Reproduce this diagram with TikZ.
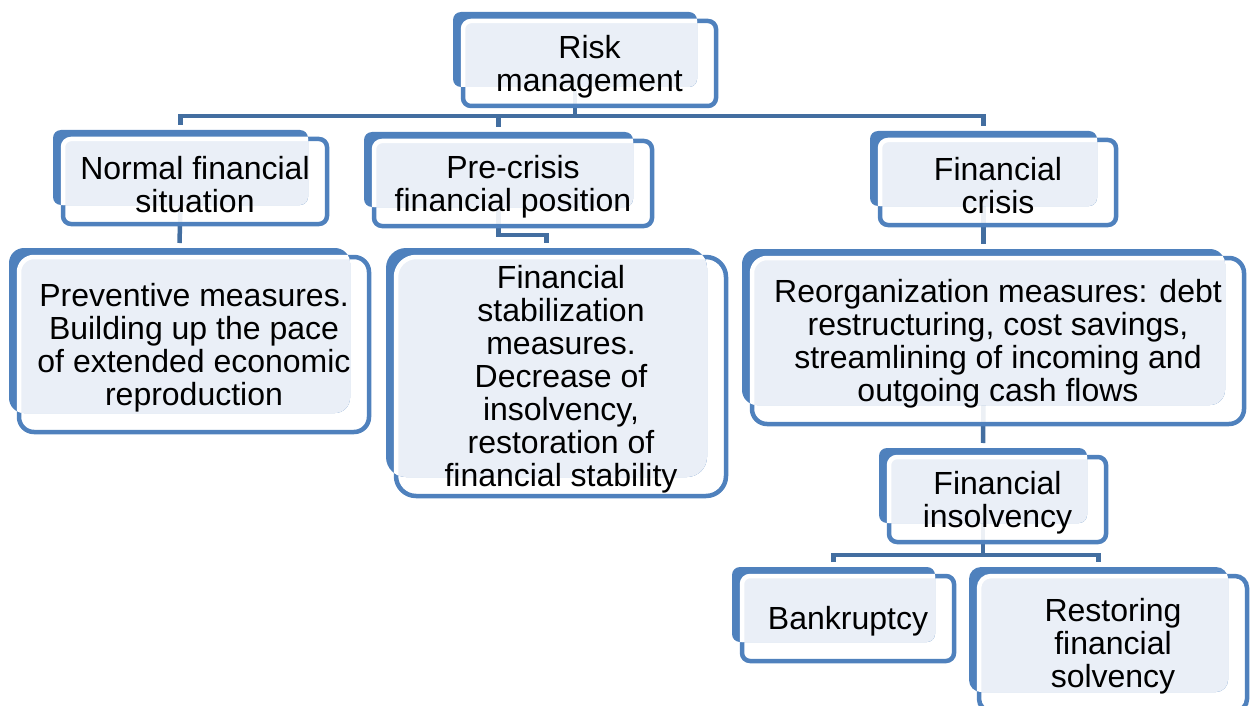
\documentclass[tikz,border=0pt]{standalone}
\usepackage{fontspec}
\setmainfont{Liberation Sans}
\usetikzlibrary{calc}
\pgfdeclarelayer{background}
\pgfsetlayers{background,main}

\definecolor{boxblue}{RGB}{79,129,189}
\definecolor{linkblue}{RGB}{67,110,160}
\definecolor{boxtint}{RGB}{234,239,247}

\tikzset{
  frontframe/.style={draw=boxblue, line width=4.5pt, fill=white, fill opacity=0.9, draw opacity=1},
  tintframe/.style={draw=white, line width=4.5pt, fill=boxtint},
  boxtext/.style={font=\fontsize{32}{33}\selectfont, align=center, inner sep=0pt, text=black},
  link/.style={draw=linkblue, line width=4.5pt},
}

% #1 name, #2 #3 centre of the back tab, #4 #5 its size, #6 corner radius, #7 text
\newcommand\stackbox[7]{%
  \path (#2,#3) node[inner sep=0pt, outer sep=0pt, minimum width=#4pt, minimum height=#5pt] (#1) {};
  \draw[frontframe, rounded corners=#6pt]
    ($(#1.north west)+(10,9)$) rectangle ($(#1.south east)+(19,19)$);
  \fill[boxblue, rounded corners=#6pt] (#1.north west) rectangle (#1.south east);
  \begin{scope}
    \clip[rounded corners=#6pt] (#1.north west) rectangle (#1.south east);
    \draw[tintframe, rounded corners=#6pt]
      ($(#1.north west)+(10,9)$) rectangle ($(#1.south east)+(19,19)$);
  \end{scope}
  \node[boxtext] (#1-text) at ($(#1.center)+(14.5,17)$) {#7};
}

\begin{document}
\begin{tikzpicture}[x=1pt, y=-1pt]
  \useasboundingbox (0,0) rectangle (1250,706);

  \stackbox{rm}{575}{49.5}{244}{75}{8}{Risk\\management}
  \stackbox{nf}{180.5}{167.5}{255}{75}{8}{Normal financial\\situation}
  \stackbox{pm}{179.5}{330.5}{341}{165}{15}{Preventive measures.\\Building up the pace\\of extended economic\\reproduction}
  \stackbox{pc}{498.5}{169.5}{269}{75}{8}{Pre-crisis\\financial position}
  \stackbox{fs}{546.5}{362.5}{321}{229}{20}{Financial\\stabilization\\measures.\\Decrease of\\insolvency,\\restoration of\\financial stability}
  \stackbox{fc}{983.5}{168.5}{227}{75}{8}{Financial\\crisis}
  \stackbox{ro}{983.5}{327}{483}{156}{15}{Reorganization measures: debt\\restructuring, cost savings,\\streamlining of incoming and\\outgoing cash flows}
  \stackbox{fi}{983}{485.5}{208}{75}{8}{Financial\\insolvency}
  \stackbox{bk}{833.5}{604.5}{203}{75}{8}{Bankruptcy}
  \stackbox{rs}{1098.5}{629.5}{259}{125}{12}{Restoring\\financial\\solvency}

  % tree connectors, kept behind the boxes
  \begin{pgfonlayer}{background}
    \coordinate (bar) at (0,116);
    \coordinate (bar2) at (0,555);
    \draw[link] (rm.south) -- (rm.south |- bar);
    \draw[link] ($(nf.north)+(0,-5)$) -- (nf.north |- bar) -- (fc.north |- bar) -- ($(fc.north)+(0,-5)$);
    \draw[link] (pc.north |- bar) -- ($(pc.north)+(0,-5)$);
    \draw[link] (nf.south) -- ($(pm.north)+(0,-5)$);
    \draw[link] (pc.south) -- ++(0,28) -| ($(fs.north)+(0,-5)$);
    \draw[link] (fc.south) -- ($(ro.north)+(0,-5)$);
    \draw[link] (ro.south) -- ($(fi.north)+(0,-5)$);
    \draw[link] (fi.south) -- (fi.south |- bar2);
    \draw[link] ($(bk.north)+(0,-5)$) -- (bk.north |- bar2) -- (rs.north |- bar2) -- ($(rs.north)+(0,-5)$);
  \end{pgfonlayer}
\end{tikzpicture}
\end{document}
